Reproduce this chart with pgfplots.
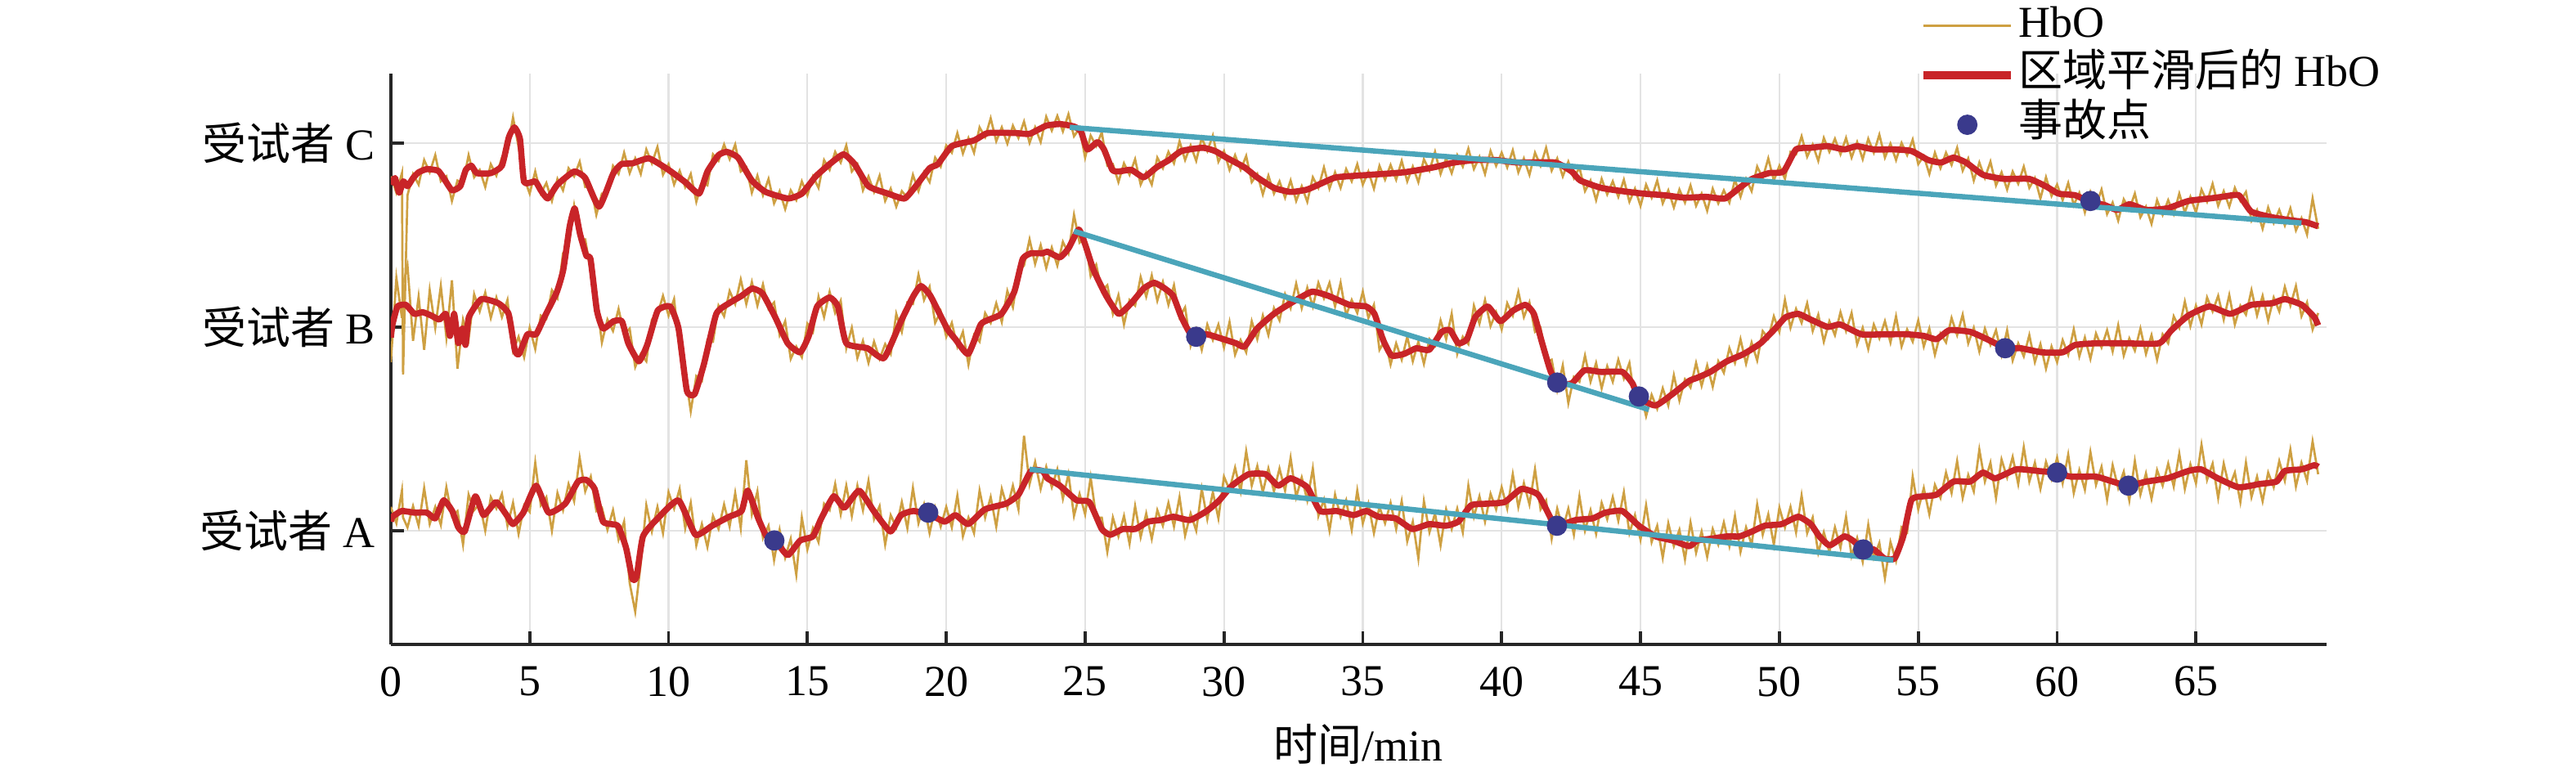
\documentclass[border=0pt]{standalone}
\usepackage{pgfplots}
\pgfplotsset{compat=1.18}
\usepackage{pgfplotstable}
\usepackage{fontspec}
\setmainfont{Liberation Serif}
\newfontfamily\cjk{Noto Sans CJK SC}
\definecolor{hbo}{RGB}{206,160,66}
\definecolor{hbored}{RGB}{200,36,40}
\definecolor{trend}{RGB}{75,165,186}
\definecolor{evt}{RGB}{58,58,140}
\pgfplotsset{
  lineleg/.style={legend image code/.code={\draw[##1] (0cm,0cm) -- (0.7cm,0cm);}},
  thickleg/.style={legend image code/.code={\draw[##1, line width=2pt] (0cm,0cm) -- (0.7cm,0cm);}},
  dotleg/.style={legend image code/.code={\draw[##1] plot coordinates {(0.35cm,0cm)};}},
}

\pgfplotstableread{
t A B C
0.0 1.68 3.45 5.72
0.2 1.48 4.48 5.52
0.4 1.88 3.99 5.76
0.44 1.55 4.40 3.30
0.6 1.43 4.63 5.49
0.8 1.69 3.71 5.75
1.0 1.45 4.25 5.62
1.2 1.91 3.60 5.92
1.4 1.47 4.33 5.77
1.6 1.68 3.87 5.98
1.8 1.46 4.38 5.66
2.0 1.92 3.75 5.72
2.2 1.57 4.45 5.42
2.4 1.63 3.37 5.67
2.6 1.22 3.97 5.64
2.8 1.83 3.73 5.98
3.0 1.64 4.28 5.71
3.2 1.72 4.07 5.80
3.4 1.39 4.30 5.59
3.6 1.80 3.99 5.87
3.8 1.66 4.24 5.73
4.0 1.84 4.00 5.95
4.2 1.45 4.21 6.05
4.4 1.73 3.59 6.44
4.6 1.35 3.76 6.08
4.8 1.70 3.51 5.70
5.0 1.62 3.87 5.51
5.2 2.22 3.61 5.78
5.4 1.70 4.02 5.51
5.6 1.80 3.98 5.64
5.8 1.39 4.33 5.42
6.0 1.85 4.23 5.69
6.2 1.64 4.78 5.55
6.4 1.96 4.87 5.82
6.6 1.75 5.36 5.72
6.8 2.28 4.95 5.90
7.0 1.87 4.95 5.59
7.2 2.05 4.55 5.60
7.4 1.63 4.23 5.25
7.6 1.67 3.69 5.51
7.8 1.40 3.97 5.51
8.0 1.64 3.83 5.85
8.2 1.28 4.10 5.75
8.4 1.50 3.79 6.01
8.6 0.75 3.86 5.76
8.8 0.40 3.39 5.94
9.0 0.99 3.55 5.75
9.2 1.70 3.46 6.05
9.4 1.38 3.97 5.88
9.6 1.68 4.03 6.08
9.8 1.36 4.26 5.74
10.0 1.86 4.02 5.87
10.2 1.66 4.22 5.62
10.4 1.90 3.60 5.79
10.6 1.42 3.31 5.59
10.8 1.73 2.85 5.75
11.0 1.21 3.28 5.41
11.2 1.47 3.22 5.64
11.4 1.19 3.72 5.61
11.6 1.57 3.70 5.99
11.8 1.41 4.14 5.91
12.0 1.71 4.01 6.11
12.2 1.44 4.32 5.93
12.4 1.85 4.16 6.11
12.6 1.42 4.46 5.78
12.8 2.25 4.16 5.83
13.0 1.59 4.43 5.52
13.2 1.87 4.14 5.73
13.4 1.30 4.40 5.49
13.6 1.45 4.10 5.69
13.8 1.03 4.18 5.39
14.0 1.40 3.78 5.54
14.2 1.06 3.95 5.32
14.4 1.29 3.49 5.55
14.6 0.85 3.64 5.43
14.8 1.55 3.51 5.66
15.0 1.16 3.92 5.49
15.2 1.42 3.82 5.72
15.4 1.25 4.25 5.58
15.6 1.72 4.00 5.92
15.8 1.64 4.31 5.80
16.0 1.96 4.05 6.02
16.2 1.59 4.20 5.89
16.4 1.94 3.62 6.10
16.6 1.57 3.87 5.78
16.8 1.94 3.50 5.87
17.0 1.64 3.71 5.55
17.2 2.00 3.44 5.72
17.4 1.53 3.70 5.53
17.6 1.69 3.49 5.73
17.8 1.22 3.67 5.42
18.0 1.58 3.55 5.57
18.2 1.43 4.04 5.35
18.4 1.74 3.82 5.54
18.6 1.42 4.18 5.46
18.8 1.91 4.16 5.74
19.0 1.48 4.52 5.54
19.2 1.71 4.21 5.77
19.4 1.36 4.37 5.65
19.6 1.67 3.93 5.95
19.8 1.44 4.07 5.84
20.0 1.68 3.76 6.10
20.2 1.43 3.93 6.01
20.4 1.82 3.64 6.25
20.6 1.32 3.82 6.00
20.8 1.55 3.42 6.19
21.0 1.36 3.78 6.01
21.2 1.88 3.70 6.32
21.4 1.55 4.05 6.20
21.6 1.80 3.93 6.43
21.8 1.44 4.17 6.15
22.0 1.90 3.94 6.32
22.2 1.67 4.32 6.12
22.4 1.94 4.12 6.34
22.6 1.65 4.56 6.19
22.8 2.55 4.63 6.39
23.0 1.96 4.95 6.13
23.2 2.23 4.65 6.32
23.4 1.90 4.88 6.14
23.6 2.17 4.60 6.45
23.8 1.92 4.85 6.28
24.0 2.14 4.63 6.46
24.2 1.78 4.92 6.27
24.4 2.08 4.78 6.48
24.6 1.57 5.25 6.21
24.8 1.84 4.91 6.31
25.0 1.59 4.97 5.95
25.2 2.04 4.50 6.22
25.4 1.55 4.64 6.09
25.6 1.55 4.32 6.26
25.8 1.13 4.39 5.85
26.0 1.55 4.04 5.87
26.2 1.32 4.27 5.65
26.4 1.57 3.91 5.88
26.6 1.23 4.21 5.74
26.8 1.69 4.14 5.93
27.0 1.31 4.49 5.62
27.2 1.60 4.25 5.77
27.4 1.29 4.51 5.62
27.6 1.64 4.20 5.95
27.8 1.45 4.43 5.82
28.0 1.73 4.15 6.02
28.2 1.44 4.39 5.88
28.4 1.80 4.00 6.15
28.6 1.33 4.12 5.92
28.8 1.60 3.65 6.10
29.0 1.39 3.85 5.91
29.2 1.90 3.60 6.19
29.4 1.53 3.91 6.03
29.6 1.86 3.72 6.22
29.8 1.54 3.91 5.90
30.0 2.05 3.63 6.03
30.2 1.89 3.94 5.80
30.4 2.16 3.54 5.98
30.6 1.87 3.72 5.80
30.8 2.36 3.57 5.97
31.0 1.94 3.95 5.65
31.2 2.18 3.73 5.75
31.4 1.86 4.02 5.50
31.6 2.15 3.78 5.73
31.8 1.87 4.11 5.51
32.0 2.15 3.96 5.66
32.2 1.88 4.28 5.46
32.4 2.28 4.11 5.67
32.6 1.80 4.41 5.42
32.8 2.04 4.11 5.60
33.0 1.76 4.36 5.41
33.2 2.15 4.13 5.71
33.4 1.57 4.42 5.58
33.6 1.77 4.23 5.83
33.8 1.39 4.42 5.57
34.0 1.83 4.13 5.77
34.2 1.56 4.42 5.58
34.4 1.76 4.02 5.81
34.6 1.40 4.21 5.66
34.8 1.88 4.05 5.87
35.0 1.48 4.31 5.62
35.2 1.72 3.99 5.78
35.4 1.36 4.15 5.57
35.6 1.68 3.60 5.85
35.8 1.48 3.72 5.68
36.0 1.73 3.42 5.86
36.2 1.41 3.68 5.68
36.4 1.75 3.48 5.91
36.6 1.26 3.76 5.66
36.8 1.50 3.46 5.84
37.0 1.05 3.70 5.65
37.2 1.75 3.43 5.93
37.4 1.37 3.73 5.79
37.6 1.60 3.65 6.02
37.8 1.21 3.96 5.75
38.0 1.65 3.73 5.94
38.2 1.41 4.04 5.76
38.4 1.66 3.55 5.98
38.6 1.37 3.76 5.84
38.8 1.94 3.67 6.06
39.0 1.56 4.14 5.81
39.2 1.81 3.92 5.96
39.4 1.50 4.21 5.75
39.6 1.84 3.89 6.03
39.8 1.65 4.06 5.85
40.0 1.92 3.85 6.01
40.2 1.66 4.17 5.83
40.4 2.08 4.02 6.04
40.6 1.68 4.31 5.77
40.8 1.97 4.00 5.94
41.0 1.71 4.18 5.74
41.2 2.14 3.82 6.01
41.4 1.65 3.87 5.85
41.6 1.76 3.45 6.07
41.8 1.29 3.48 5.79
42.0 1.66 3.11 5.94
42.2 1.41 3.41 5.72
42.4 1.66 2.95 5.90
42.6 1.34 3.27 5.70
42.8 1.81 3.21 5.83
43.0 1.39 3.53 5.54
43.2 1.64 3.21 5.67
43.4 1.35 3.44 5.43
43.6 1.73 3.13 5.69
43.8 1.53 3.40 5.50
44.0 1.80 3.21 5.66
44.2 1.51 3.48 5.47
44.4 1.86 3.25 5.68
44.6 1.36 3.44 5.41
44.8 1.58 2.98 5.57
45.0 1.28 3.08 5.36
45.2 1.70 2.79 5.62
45.4 1.25 3.05 5.46
45.6 1.45 2.88 5.67
45.8 1.06 3.13 5.39
46.0 1.48 2.92 5.55
46.2 1.20 3.29 5.34
46.4 1.40 2.98 5.56
46.6 1.04 3.24 5.40
46.8 1.49 3.14 5.61
47.0 1.12 3.44 5.36
47.2 1.38 3.16 5.51
47.4 1.07 3.41 5.30
47.6 1.41 3.15 5.57
47.8 1.22 3.46 5.39
48.0 1.49 3.32 5.55
48.2 1.20 3.62 5.40
48.4 1.57 3.44 5.68
48.6 1.13 3.73 5.47
48.8 1.43 3.43 5.69
49.0 1.22 3.69 5.54
49.2 1.71 3.47 5.84
49.4 1.34 3.83 5.70
49.6 1.59 3.74 5.94
49.8 1.22 4.01 5.67
50.0 1.67 3.82 5.85
50.2 1.43 4.21 5.69
50.4 1.68 3.87 6.02
50.6 1.37 4.10 5.99
50.8 1.82 3.93 6.21
51.0 1.36 4.17 5.96
51.2 1.55 3.83 6.11
51.4 1.12 4.03 5.91
51.6 1.37 3.70 6.19
51.8 1.13 3.95 6.02
52.0 1.43 3.78 6.18
52.2 1.18 4.06 5.99
52.4 1.56 3.83 6.19
52.6 1.08 4.05 5.95
52.8 1.30 3.67 6.14
53.0 1.01 3.87 5.93
53.2 1.46 3.61 6.18
53.4 1.06 3.91 6.01
53.6 1.24 3.74 6.23
53.8 0.81 3.95 5.95
54.0 1.25 3.69 6.12
54.2 1.02 4.01 5.92
54.4 1.43 3.64 6.13
54.6 1.37 3.85 5.98
54.8 2.05 3.70 6.17
55.0 1.65 3.96 5.87
55.2 1.91 3.64 5.97
55.4 1.59 3.86 5.75
55.6 1.95 3.54 6.01
55.8 1.79 3.80 5.82
56.0 2.10 3.69 6.01
56.2 1.85 3.99 5.86
56.4 2.24 3.78 6.07
56.6 1.79 4.03 5.79
56.8 2.07 3.68 5.94
57.0 1.87 3.87 5.67
57.2 2.38 3.58 5.89
57.4 1.99 3.86 5.70
57.6 2.22 3.66 5.90
57.8 1.79 3.84 5.61
58.0 2.26 3.54 5.77
58.2 2.04 3.84 5.56
58.4 2.29 3.47 5.78
58.6 1.96 3.68 5.63
58.8 2.41 3.52 5.84
59.0 1.99 3.78 5.58
59.2 2.22 3.45 5.70
59.4 1.90 3.67 5.45
59.6 2.23 3.37 5.71
59.8 2.02 3.64 5.48
60.0 2.28 3.45 5.62
60.2 1.97 3.72 5.43
60.4 2.32 3.54 5.64
60.6 1.85 3.85 5.37
60.8 2.13 3.52 5.52
61.0 1.89 3.75 5.28
61.2 2.35 3.49 5.53
61.4 1.95 3.80 5.36
61.6 2.17 3.63 5.56
61.8 1.77 3.84 5.26
62.0 2.19 3.58 5.40
62.2 1.91 3.90 5.18
62.4 2.11 3.53 5.44
62.6 1.76 3.74 5.32
62.8 2.24 3.59 5.51
63.0 1.83 3.86 5.22
63.2 2.09 3.55 5.35
63.4 1.78 3.78 5.14
63.6 2.13 3.48 5.43
63.8 1.94 3.79 5.25
64.0 2.21 3.68 5.43
64.2 1.93 4.01 5.26
64.4 2.33 3.87 5.51
64.6 1.90 4.19 5.28
64.8 2.20 3.89 5.47
65.0 1.97 4.14 5.28
65.2 2.44 3.91 5.56
65.4 2.01 4.24 5.41
65.6 2.21 4.07 5.63
65.8 1.79 4.26 5.36
66.0 2.21 3.97 5.54
66.2 1.92 4.27 5.35
66.4 2.10 3.91 5.58
66.6 1.74 4.14 5.42
66.8 2.22 4.03 5.53
67.0 1.80 4.33 5.18
67.2 2.05 4.02 5.31
67.4 1.75 4.26 5.08
67.6 2.10 3.96 5.34
67.8 1.92 4.24 5.15
68.0 2.24 4.07 5.31
68.2 2.00 4.37 5.12
68.4 2.38 4.14 5.33
68.6 1.93 4.38 5.06
68.8 2.22 4.01 5.21
69.0 2.00 4.18 5.01
69.2 2.48 3.85 5.45
69.4 2.08 4.05 5.08
}\hbodata

\pgfplotstableread{
t y
0.0 1.50
0.06 1.56
0.39 1.63
0.85 1.61
1.30 1.61
1.60 1.54
1.90 1.76
2.21 1.63
2.43 1.43
2.66 1.38
3.04 1.81
3.34 1.58
3.79 1.74
4.17 1.58
4.40 1.47
4.77 1.61
5.23 1.94
5.68 1.61
6.28 1.72
6.74 1.99
7.04 2.01
7.34 1.90
7.64 1.50
8.17 1.45
8.47 1.18
8.70 0.80
8.85 0.83
9.08 1.32
9.61 1.54
10.36 1.76
10.97 1.34
11.57 1.45
12.18 1.56
12.63 1.63
12.85 1.88
13.23 1.54
13.53 1.32
13.84 1.27
14.29 1.09
14.74 1.27
15.20 1.32
15.50 1.54
15.95 1.81
16.33 1.67
16.86 1.88
17.39 1.63
17.99 1.38
18.37 1.58
18.82 1.63
19.43 1.58
19.95 1.50
20.33 1.58
20.79 1.47
21.39 1.65
22.15 1.72
22.60 1.83
23.05 2.12
23.47 2.12
23.64 2.03
24.09 1.94
24.70 1.76
25.15 1.74
25.60 1.41
25.91 1.34
26.36 1.41
26.81 1.41
27.27 1.50
27.72 1.52
28.17 1.56
28.78 1.52
29.38 1.63
29.83 1.76
30.29 1.94
30.89 2.08
31.50 2.08
31.95 1.94
32.40 2.03
33.00 1.92
33.46 1.63
34.06 1.63
34.67 1.58
35.12 1.63
35.57 1.56
36.18 1.54
36.78 1.41
37.39 1.47
37.99 1.45
38.44 1.50
38.90 1.70
39.50 1.72
40.11 1.74
40.71 1.90
41.31 1.83
41.77 1.54
41.99 1.45
42.67 1.52
43.28 1.54
43.73 1.61
44.34 1.63
44.94 1.45
45.54 1.32
46.15 1.27
46.75 1.20
47.05 1.27
47.51 1.29
48.11 1.32
48.56 1.32
49.02 1.38
49.47 1.45
50.08 1.47
50.68 1.56
51.13 1.47
51.44 1.32
51.81 1.21
52.34 1.32
52.64 1.27
53.02 1.16
53.40 1.16
53.78 1.05
54.15 1.05
54.46 1.32
54.76 1.77
55.21 1.81
55.66 1.83
56.27 1.99
56.87 1.99
57.33 2.10
57.78 2.03
58.54 2.14
59.29 2.12
59.89 2.10
60.50 2.05
61.40 2.05
62.00 1.99
62.54 1.94
63.22 1.99
63.97 2.03
64.73 2.12
65.18 2.14
65.79 2.03
66.54 1.92
67.29 1.96
67.90 1.99
68.20 2.12
68.81 2.14
69.26 2.19
69.40 2.17
}\redA

\pgfplotstableread{
t y
0.0 3.75
0.06 3.91
0.24 4.13
0.54 4.15
0.85 4.04
1.15 4.06
1.45 4.02
1.75 3.97
1.98 4.04
2.13 3.77
2.28 4.04
2.43 3.68
2.58 3.86
2.69 3.66
2.81 4.00
3.26 4.22
3.87 4.17
4.24 4.04
4.47 3.59
4.62 3.55
4.92 3.79
5.23 3.79
5.53 4.00
5.98 4.31
6.21 4.58
6.44 5.11
6.62 5.33
6.81 5.02
7.04 4.75
7.19 4.71
7.42 4.08
7.64 3.86
8.02 3.95
8.32 3.95
8.55 3.68
8.93 3.46
9.23 3.66
9.61 4.08
10.06 4.13
10.36 3.86
10.66 3.10
10.94 3.06
11.27 3.42
11.72 4.04
12.18 4.17
12.63 4.26
13.01 4.35
13.38 4.29
13.84 4.00
14.29 3.68
14.74 3.57
15.05 3.77
15.35 4.13
15.80 4.24
16.10 4.13
16.40 3.68
17.16 3.62
17.76 3.50
18.37 3.95
18.82 4.26
19.09 4.38
19.43 4.26
20.03 3.86
20.33 3.73
20.79 3.55
21.24 3.91
21.54 3.97
21.99 4.04
22.45 4.31
22.75 4.71
23.05 4.78
23.47 4.78
23.64 4.80
24.09 4.73
24.40 4.84
24.77 5.07
25.00 4.89
25.30 4.58
25.76 4.26
26.21 4.04
26.66 4.17
27.11 4.35
27.49 4.42
27.87 4.35
28.17 4.26
28.47 4.00
28.85 3.77
29.38 3.79
29.98 3.73
30.44 3.68
30.74 3.64
31.19 3.86
31.80 4.04
32.40 4.17
33.16 4.31
33.76 4.26
34.52 4.15
35.12 4.13
35.42 4.04
35.72 3.73
36.03 3.53
36.48 3.55
36.93 3.62
37.39 3.60
37.84 3.82
38.14 3.84
38.44 3.68
38.75 3.73
39.05 4.00
39.50 4.13
39.95 3.95
40.41 4.08
40.86 4.15
41.16 4.04
41.46 3.68
41.77 3.33
42.07 3.19
42.52 3.19
42.98 3.35
43.58 3.33
44.34 3.33
44.71 3.19
44.94 3.01
45.54 2.92
46.15 3.06
46.75 3.22
47.05 3.26
47.51 3.33
48.11 3.46
48.72 3.55
49.32 3.68
49.85 3.86
50.23 4.00
50.68 4.04
51.13 3.97
51.74 3.88
52.19 3.91
52.95 3.79
53.70 3.79
54.61 3.79
55.21 3.77
55.66 3.73
56.12 3.84
56.87 3.82
57.48 3.73
58.16 3.62
58.69 3.62
59.44 3.57
60.20 3.57
60.65 3.66
61.40 3.68
62.46 3.68
63.67 3.68
64.12 3.84
64.73 4.02
65.48 4.13
66.24 4.04
66.99 4.15
67.75 4.17
68.20 4.22
68.81 4.15
69.26 4.00
69.40 3.90
}\redB

\pgfplotstableread{
t y
0.0 5.62
0.15 5.70
0.3 5.52
0.45 5.66
0.6 5.60
0.8 5.70
1.0 5.77
1.3 5.81
1.7 5.79
1.9 5.70
2.2 5.55
2.5 5.60
2.7 5.80
2.9 5.85
3.1 5.76
3.6 5.76
4.0 5.85
4.25 6.20
4.45 6.32
4.65 6.18
4.8 5.65
5.2 5.66
5.4 5.55
5.65 5.45
6.0 5.62
6.6 5.78
7.0 5.70
7.5 5.35
8.0 5.75
8.3 5.87
8.7 5.88
9.3 5.94
10.0 5.80
10.6 5.65
11.1 5.51
11.4 5.78
11.8 5.98
12.1 6.02
12.5 5.95
13.0 5.67
13.5 5.53
14.3 5.45
14.8 5.51
15.3 5.72
15.8 5.87
16.3 5.99
16.7 5.87
17.2 5.60
17.9 5.51
18.5 5.45
18.9 5.60
19.4 5.82
19.7 5.87
20.2 6.09
21.0 6.16
21.5 6.25
22.5 6.25
23.0 6.24
23.6 6.34
24.1 6.36
24.6 6.33
24.85 6.27
25.08 6.05
25.45 6.14
25.68 6.05
25.98 5.80
26.21 5.78
26.66 5.80
27.11 5.71
27.57 5.83
28.02 5.92
28.47 6.03
29.23 6.07
29.68 6.03
30.14 5.94
30.74 5.83
31.19 5.71
31.80 5.58
32.40 5.53
33.0 5.56
33.61 5.65
34.06 5.71
35.27 5.74
36.48 5.77
37.54 5.83
38.29 5.89
39.05 5.92
39.80 5.92
40.56 5.89
41.92 5.89
42.52 5.78
42.83 5.67
43.58 5.58
44.34 5.54
45.09 5.51
45.85 5.49
46.6 5.46
47.36 5.47
48.04 5.45
48.56 5.58
49.02 5.69
49.62 5.76
50.15 5.78
50.6 6.05
51.13 6.07
51.74 6.09
52.34 6.05
52.79 6.09
53.40 6.05
54.15 6.05
54.76 6.03
55.36 5.92
55.82 5.89
56.27 5.95
56.72 5.89
57.33 5.74
58.08 5.69
58.99 5.69
59.59 5.60
60.05 5.51
60.65 5.49
61.1 5.42
61.71 5.37
62.16 5.31
62.61 5.38
63.22 5.31
63.97 5.33
64.73 5.42
65.48 5.45
65.94 5.47
66.54 5.49
66.99 5.29
67.75 5.22
68.5 5.18
68.96 5.16
69.4 5.11
}\redC

\begin{document}
\begin{tikzpicture}
\useasboundingbox (-88.5pt,-28.9pt) rectangle (494.8pt,145.9pt);
\begin{axis}[
  at={(0pt,0pt)}, anchor=south west,
  scale only axis, width=438.3pt, height=129.3pt,
  xmin=0, xmax=69.7, ymin=0, ymax=6.98,
  axis x line*=bottom, axis y line*=left,
  axis line style={line width=0.7pt, black!85},
  tick align=inside,
  major tick length=3pt,
  tick style={line width=0.7pt, black!85},
  xtick={0,5,...,65},
  ytick={1.39,3.88,6.13},
  yticklabels={{\cjk 受试者} A,{\cjk 受试者} B,{\cjk 受试者} C},
  xticklabel style={yshift=-1.5pt},
  xlabel={{\cjk 时间}/min},
  x label style={at={(axis description cs:0.5,-0.175)}, anchor=center},
  grid=major, major grid style={line width=0.4pt, black!11},
  /pgf/number format/assume math mode=true,
  legend cell align=left,
  legend style={draw=none, fill=none, at={(0.789,1.128)}, anchor=north west,
    inner sep=0pt, row sep=0pt,
    nodes={inner sep=0.6pt, text height=7.5pt, text depth=2.5pt}},
]
\addplot[hbo, line width=0.5pt, lineleg] table[x=t, y=A] {\hbodata};
\addlegendentry{HbO}
\addplot[hbo, line width=0.5pt, forget plot] table[x=t, y=B] {\hbodata};
\addplot[hbo, line width=0.5pt, forget plot] table[x=t, y=C] {\hbodata};

\addplot[hbored, line width=1.4pt, line join=round, smooth, tension=0.3, thickleg] table[x=t, y=y] {\redA};
\addlegendentry{{\cjk 区域平滑后的} HbO}
\addplot[hbored, line width=1.4pt, line join=round, smooth, tension=0.3, forget plot] table[x=t, y=y] {\redB};
\addplot[hbored, line width=1.4pt, line join=round, smooth, tension=0.3, forget plot] table[x=t, y=y] {\redC};

\addplot[trend, line width=1.2pt, forget plot] coordinates {(23.0,2.14) (54.1,1.03)};
\addplot[trend, line width=1.2pt, forget plot] coordinates {(24.6,5.05) (45.3,2.87)};
\addplot[trend, line width=1.2pt, forget plot] coordinates {(24.45,6.32) (68.8,5.15)};

\addplot[only marks, mark=*, mark size=2.1pt, mark options={fill=evt, draw=evt}, dotleg]
  coordinates {(13.81,1.27) (19.35,1.61) (41.99,1.45) (53.02,1.16) (60.0,2.10) (62.57,1.94)
               (29.0,3.76) (42.0,3.20) (44.94,3.03) (58.13,3.62) (61.2,5.42)};
\addlegendentry{{\cjk 事故点}}
\end{axis}
\end{tikzpicture}
\end{document}
